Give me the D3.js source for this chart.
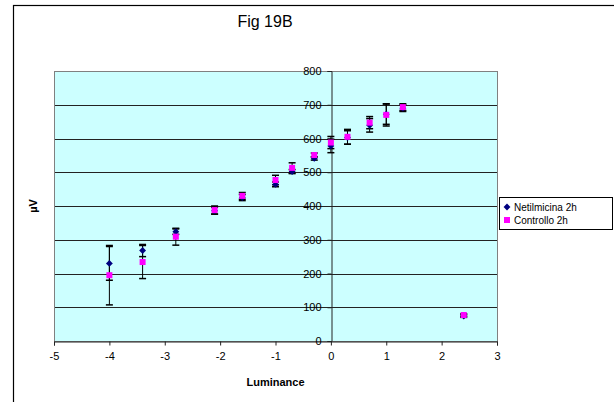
<!DOCTYPE html>
<html>
<head>
<meta charset="utf-8">
<script src="https://cdn.jsdelivr.net/npm/d3@7"></script>
<style>
  body { margin: 0; background: #fff; }
  svg { display: block; font-family: "Liberation Sans", Arial, sans-serif; }
</style>
</head>
<body>
<svg id="chart" width="614" height="402"></svg>
<script>
// luminance levels (log units)
var luminance = [-4.0, -3.4, -2.8, -2.1, -1.6, -1.0, -0.7, -0.3, 0.0, 0.3, 0.7, 1.0, 1.3, 2.4];

// Netilmicina 2h: mean and error (µV)
var netilMean = [230, 268, 324, 386, 425, 464, 502, 541, 578, 603, 639, 672, 690, 74];
var netilErr  = [50, 18, 8, 10, 9, 7, 6, 5, 20, 20, 20, 30, 10, 4];

// Controllo 2h: mean and error (µV)
var controlMean = [195, 234, 309, 388, 430, 477, 513, 551, 588, 605, 647, 670, 693, 77];
var controlErr  = [88, 49, 25, 12, 10, 14, 15, 6, 18, 22, 18, 33, 10, 4];

var xTicks = [-5, -4, -3, -2, -1, 0, 1, 2, 3];
var yTicks = [0, 100, 200, 300, 400, 500, 600, 700, 800];

var seriesNames = ["Netilmicina 2h", "Controllo 2h"];

var svg = d3.select("#chart");

var plot = { left: 54, top: 71, right: 497, bottom: 341 };

var x = d3.scaleLinear().domain([-5, 3]).range([plot.left, plot.right]);
var y = d3.scaleLinear().domain([0, 800]).range([plot.bottom, plot.top]);

// outer chart frame
svg.append("rect")
  .attr("x", 13.5).attr("y", 5.5)
  .attr("width", 700).attr("height", 500)
  .attr("fill", "none").attr("stroke", "#000").attr("stroke-width", 1.2);

svg.append("text")
  .attr("x", 265).attr("y", 27)
  .attr("text-anchor", "middle")
  .attr("font-size", 16)
  .text("Fig 19B");

// plot area
svg.append("rect")
  .attr("x", plot.left).attr("y", plot.top)
  .attr("width", plot.right - plot.left).attr("height", plot.bottom - plot.top)
  .attr("fill", "#ccffff");

// gridlines
svg.append("g").selectAll("line")
  .data(yTicks.filter(function(d) { return d > 0 && d < 800; }))
  .join("line")
  .attr("x1", plot.left).attr("x2", plot.right)
  .attr("y1", function(d) { return Math.round(y(d)) + 0.5; })
  .attr("y2", function(d) { return Math.round(y(d)) + 0.5; })
  .attr("stroke", "#222").attr("stroke-width", 1);

svg.append("rect")
  .attr("x", plot.left + 0.5).attr("y", plot.top + 0.5)
  .attr("width", plot.right - plot.left).attr("height", plot.bottom - plot.top)
  .attr("fill", "none").attr("stroke", "#808080").attr("stroke-width", 1);

// excel style minus: plain hyphen
var fmt = function(d) { return String(d); };

// x axis
var xAxis = svg.append("g")
  .attr("transform", "translate(0," + (plot.bottom + 0.5) + ")")
  .call(d3.axisBottom(x).tickValues(xTicks).tickSize(4).tickPadding(7).tickFormat(fmt));
xAxis.select(".domain").attr("stroke", "#222");
xAxis.selectAll("line").attr("stroke", "#222");
xAxis.selectAll("text").attr("font-size", 11).attr("fill", "#000")
  .attr("font-family", "Liberation Sans, Arial, sans-serif");

// y axis through x = 0
var yAxis = svg.append("g")
  .attr("transform", "translate(" + (Math.round(x(0)) + 0.5) + ",0)")
  .call(d3.axisLeft(y).tickValues(yTicks).tickSize(4).tickPadding(6).tickFormat(fmt));
yAxis.select(".domain").attr("stroke", "#222");
yAxis.selectAll("line").attr("stroke", "#222");
yAxis.selectAll("text").attr("font-size", 11).attr("fill", "#000")
  .attr("font-family", "Liberation Sans, Arial, sans-serif");

svg.append("text")
  .attr("x", (plot.left + plot.right) / 2).attr("y", 386)
  .attr("text-anchor", "middle")
  .attr("font-size", 11).attr("font-weight", "bold")
  .text("Luminance");

svg.append("text")
  .attr("transform", "translate(37," + ((plot.top + plot.bottom) / 2) + ") rotate(-90)")
  .attr("text-anchor", "middle")
  .attr("font-size", 11).attr("font-weight", "bold")
  .text("µV");

// error bars
function drawErrors(means, errs) {
  var g = svg.append("g").attr("stroke", "#000").attr("stroke-width", 1);
  luminance.forEach(function(l, i) {
    var cx = x(l), lo = y(means[i] - errs[i]), hi = y(means[i] + errs[i]);
    g.append("line").attr("x1", cx).attr("x2", cx).attr("y1", lo).attr("y2", hi);
    g.append("line").attr("x1", cx - 3.5).attr("x2", cx + 3.5).attr("y1", lo).attr("y2", lo).attr("stroke-width", 1.5);
    g.append("line").attr("x1", cx - 3.5).attr("x2", cx + 3.5).attr("y1", hi).attr("y2", hi).attr("stroke-width", 1.5);
  });
}
drawErrors(netilMean, netilErr);
drawErrors(controlMean, controlErr);

var diamond = d3.symbol().type(d3.symbolDiamond2).size(30);

svg.append("g").selectAll("path")
  .data(luminance)
  .join("path")
  .attr("d", diamond)
  .attr("transform", function(d, i) { return "translate(" + x(d) + "," + y(netilMean[i]) + ")"; })
  .attr("fill", "#000080");

svg.append("g").selectAll("rect")
  .data(luminance)
  .join("rect")
  .attr("x", function(d) { return x(d) - 3; })
  .attr("y", function(d, i) { return y(controlMean[i]) - 3; })
  .attr("width", 6).attr("height", 6)
  .attr("fill", "#ff00ff");

// legend
var legend = svg.append("g").attr("transform", "translate(499,197)");
legend.append("rect")
  .attr("x", 0.5).attr("y", 0.5).attr("width", 113).attr("height", 32)
  .attr("fill", "#fff").attr("stroke", "#000");
legend.append("path")
  .attr("d", diamond)
  .attr("transform", "translate(8,10)")
  .attr("fill", "#000080");
legend.append("rect")
  .attr("x", 5).attr("y", 20).attr("width", 6).attr("height", 6)
  .attr("fill", "#ff00ff");
legend.selectAll("text.lbl")
  .data(seriesNames)
  .join("text")
  .attr("class", "lbl")
  .attr("x", 15)
  .attr("y", function(d, i) { return 13.5 + i * 13; })
  .attr("font-size", 10)
  .text(function(d) { return d; });
</script>
</body>
</html>
